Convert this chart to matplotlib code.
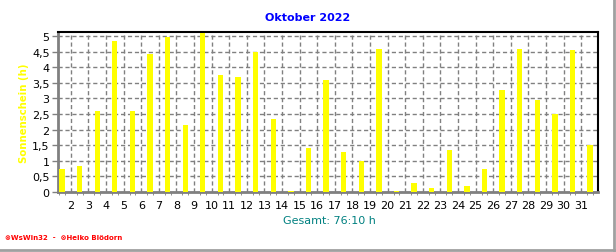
import numpy as np
import matplotlib
matplotlib.use("Agg")
import matplotlib.pyplot as plt
from matplotlib.lines import Line2D
from matplotlib.ticker import FixedLocator, MultipleLocator, FuncFormatter

days = list(range(1, 32))
sunshine = [0.75, 0.82, 2.6, 4.85, 2.6, 4.42, 4.98, 2.15, 5.1, 3.75,
            3.7, 4.5, 2.35, 0.02, 1.4, 3.6, 1.28, 1.0, 4.6, 0.02,
            0.28, 0.12, 1.35, 0.18, 0.75, 3.28, 4.6, 2.95, 2.5, 4.55, 1.52]
tick_labels = [str(d) for d in range(2, 32)]
title = "Oktober 2022"
ylabel = "Sonnenschein (h)"
total_text = "Gesamt: 76:10 h"
footer = "\u2297WsWin32  -  \u2297Heiko Blödorn"

W, H = 616, 253
fig = plt.figure(figsize=(W / 100, H / 100), dpi=100)
fig.patch.set_facecolor("white")
ax = fig.add_axes([58 / W, 1 - 193 / H, (598 - 58) / W, (193 - 33) / H])

xpos = [d + 0.5 for d in days]
ax.bar(xpos, sunshine, width=0.3, color="#ffff00", zorder=3)

ax.set_xlim(1.27, 31.95)
ax.set_ylim(0, 5.13)

ax.xaxis.set_major_locator(FixedLocator(list(range(2, 32))))
ax.set_xticklabels(tick_labels)
ax.xaxis.set_minor_locator(MultipleLocator(1 / 3))
ax.yaxis.set_major_locator(MultipleLocator(0.5))
ax.yaxis.set_major_formatter(FuncFormatter(lambda v, p: ("%g" % v).replace(".", ",")))

ax.grid(True, which="major", color="#808080", linestyle=(0, (3, 2)), linewidth=1.0, zorder=1)
ax.tick_params(axis="x", which="major", length=0, pad=6, labelsize=8, colors="black")
ax.tick_params(axis="x", which="minor", length=2, width=0.7, color="#909090")
ax.tick_params(axis="y", which="major", length=4, width=1.0, color="#808080", pad=2, labelsize=8)

for s in ["left", "bottom"]:
    ax.spines[s].set_color("#808080")
    ax.spines[s].set_linewidth(2.0)
for s in ["top", "right"]:
    ax.spines[s].set_color("black")
    ax.spines[s].set_linewidth(1.5)

fig.text(308 / W, 1 - 18 / H, title, color="#0000ff", fontsize=8, fontweight="bold",
         ha="center", va="center")
fig.text(24 / W, 1 - 113 / H, ylabel, color="#ffff00", fontsize=7.3, fontweight="bold",
         rotation=90, ha="center", va="center")
fig.text(329 / W, 1 - 221 / H, total_text, color="#008080", fontsize=8,
         ha="center", va="center")
fig.text(5 / W, 1 - 238 / H, footer, color="#ff0000", fontsize=5, fontweight="bold",
         ha="left", va="center")

fig.add_artist(Line2D([1 - 2 / W, 1 - 2 / W], [1 / H, 1], transform=fig.transFigure,
                      color="#a0a0a0", linewidth=2))
fig.add_artist(Line2D([0, 1 - 2 / W], [2 / H, 2 / H], transform=fig.transFigure,
                      color="#a0a0a0", linewidth=2))

fig.savefig("out.png", dpi=100, facecolor="white")
